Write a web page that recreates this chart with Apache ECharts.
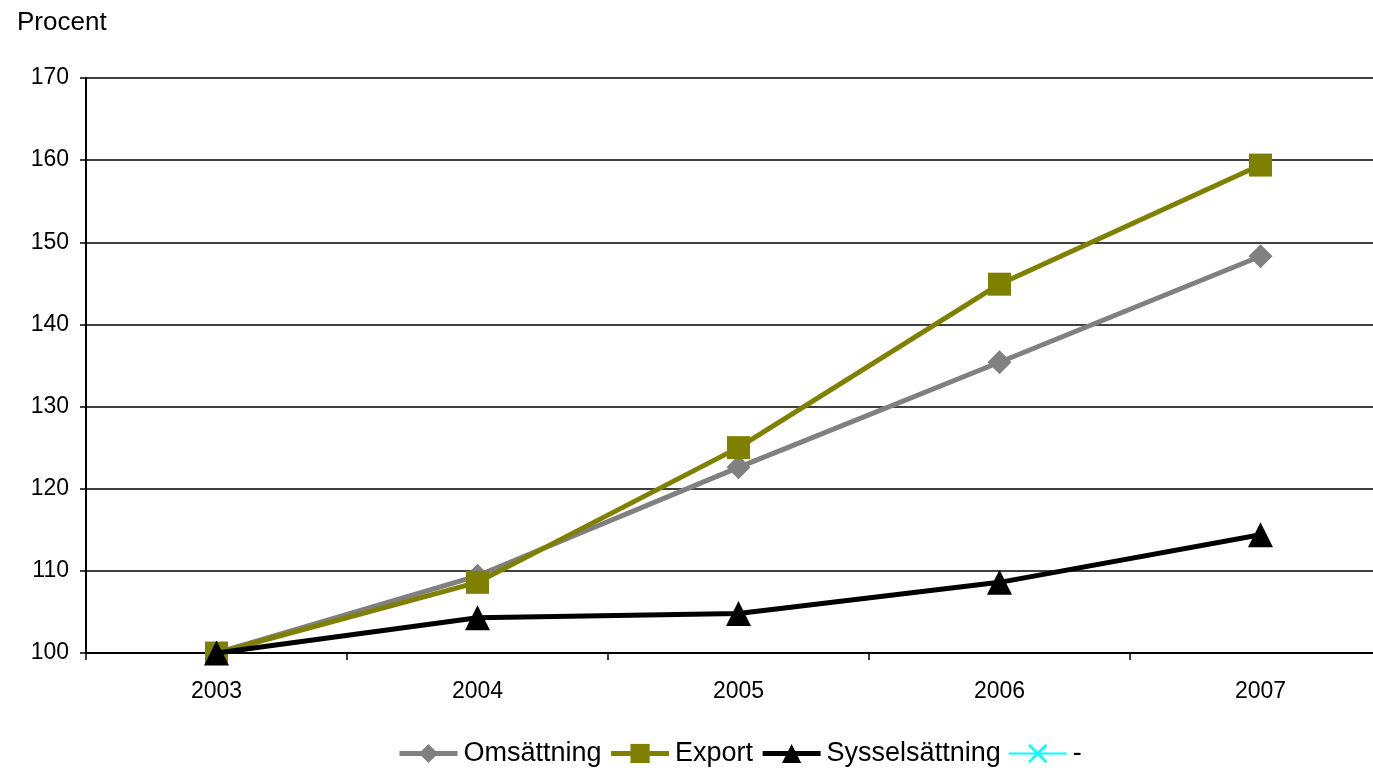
<!DOCTYPE html>
<html>
<head>
<meta charset="utf-8">
<script src="https://cdn.jsdelivr.net/npm/echarts@6/dist/echarts.min.js"></script>
<style>html,body{margin:0;padding:0;background:#fff}#c{width:1373px;height:770px}</style>
</head>
<body>
<div id="c"></div>
<script>
const years = ['2003', '2004', '2005', '2006', '2007'];
const omsattning = [100, 109.4, 122.6, 135.4, 148.3];
const exportVals = [100, 108.6, 125.0, 144.9, 159.4];
const syssel = [100, 104.3, 104.8, 108.6, 114.4];
const dash = [];
const yTicks = { min: 100, max: 170, interval: 10 };

const font = 'Liberation Sans, Arial, sans-serif';
const chart = echarts.init(document.getElementById('c'));
chart.setOption({
  animation: false,
  backgroundColor: '#fff',
  title: {
    text: 'Procent', left: 12, top: 5,
    textStyle: { fontFamily: font, fontSize: 26, fontWeight: 'normal', color: '#000' }
  },
  grid: { left: 86, top: 78, height: 575, width: 1305, outerBoundsMode: 'none', containLabel: false },
  legend: {
    top: 735, left: 392, itemWidth: 58, itemHeight: 24, itemGap: 7,
    textStyle: { fontFamily: font, fontSize: 27, color: '#000', padding: [0, 0, 0, 1] },
    data: [
      { name: 'Omsättning', lineStyle: { width: 5 } },
      { name: 'Export', lineStyle: { width: 5 } },
      { name: 'Sysselsättning', lineStyle: { width: 5 } },
      { name: '-', lineStyle: { width: 2 } }
    ]
  },
  xAxis: {
    type: 'category', data: years, boundaryGap: true,
    axisLine: { lineStyle: { color: '#000', width: 2 } },
    axisTick: { show: true, length: 7, lineStyle: { color: '#000', width: 1.5 } },
    axisLabel: { fontFamily: font, fontSize: 23, color: '#000', margin: 27 },
    splitLine: { show: false }
  },
  yAxis: {
    type: 'value', min: yTicks.min, max: yTicks.max, interval: yTicks.interval,
    axisLine: { show: true, lineStyle: { color: '#000', width: 2 } },
    axisTick: { show: true, inside: false, length: 6, lineStyle: { color: '#000', width: 1.5 } },
    axisLabel: { fontFamily: font, fontSize: 23, color: '#000', margin: 17 },
    splitLine: { show: true, lineStyle: { color: '#000', width: 1.5 } }
  },
  series: [
    {
      name: 'Omsättning', type: 'line', data: omsattning,
      symbol: 'diamond', symbolSize: 24,
      lineStyle: { color: '#808080', width: 5 },
      itemStyle: { color: '#808080' }, z: 3
    },
    {
      name: 'Export', type: 'line', data: exportVals,
      symbol: 'rect', symbolSize: 23,
      lineStyle: { color: '#808000', width: 5 },
      itemStyle: { color: '#808000' }, z: 4
    },
    {
      name: 'Sysselsättning', type: 'line', data: syssel,
      symbol: 'triangle', symbolSize: 25,
      lineStyle: { color: '#000', width: 5 },
      itemStyle: { color: '#000' }, z: 5
    },
    {
      name: '-', type: 'line', data: dash,
      symbol: 'path://M0,1L1,0L5,4L9,0L10,1L6,5L10,9L9,10L5,6L1,10L0,9L4,5Z', symbolSize: 14,
      lineStyle: { color: '#00FFFF', width: 2 },
      itemStyle: { color: '#00FFFF' }
    }
  ]
});
</script>
</body>
</html>
